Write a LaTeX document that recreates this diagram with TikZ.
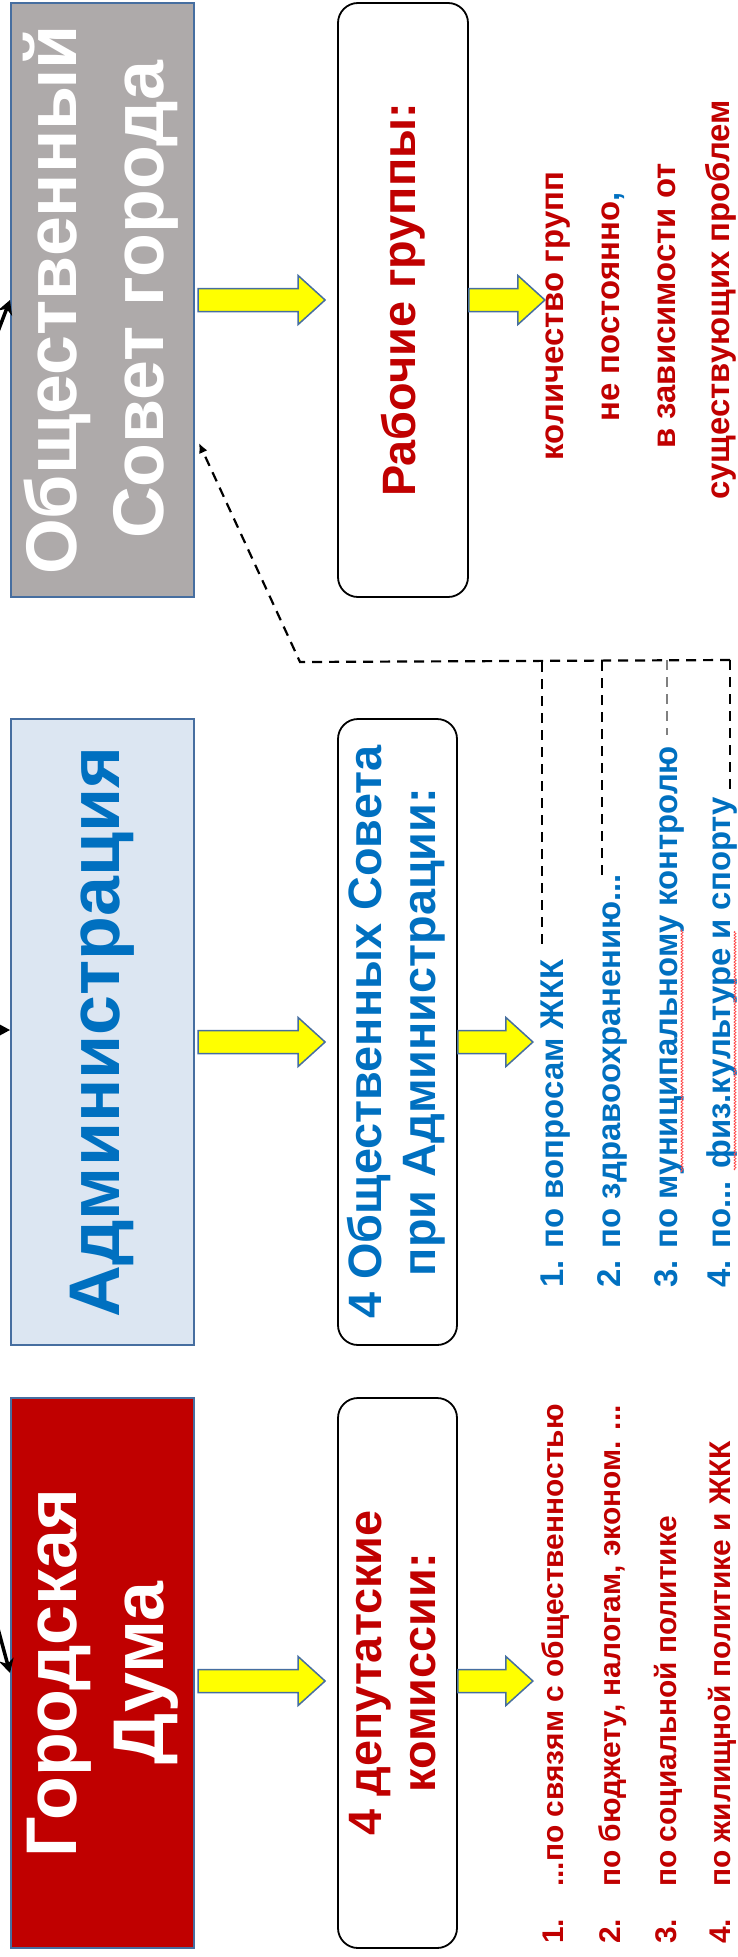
\documentclass[tikz,border=0pt]{standalone}
\usepackage{graphicx}
\usepackage{fontspec}
\setmainfont{Liberation Sans}
\usetikzlibrary{arrows.meta,calc,decorations.pathmorphing}
\definecolor{boxblue}{RGB}{70,110,160}
\definecolor{gfill}{RGB}{174,170,170}
\definecolor{afill}{RGB}{220,230,242}
\definecolor{dred}{RGB}{192,0,0}
\definecolor{tblue}{RGB}{0,112,192}
\definecolor{ayellow}{RGB}{255,255,0}
\newcommand\yarrow[2]{%
  \draw[yarrowst] let \p1=(#1), \p2=(#2) in
    (\x1,\y1+11.5bp) -- (\x2-27bp,\y1+11.5bp) -- (\x2-27bp,\y1+24.5bp) -- (\x2,\y1)
    -- (\x2-27bp,\y1-24.5bp) -- (\x2-27bp,\y1-11.5bp) -- (\x1,\y1-11.5bp) -- cycle;}
\begin{document}
\begin{tikzpicture}[x=1bp,y=-1bp,
  bigbox/.style={draw=boxblue, line width=2bp, minimum width=183bp, inner sep=0pt,
    font=\bfseries\fontsize{72}{87}\selectfont},
  rbox/.style={draw=black, line width=1.8bp, rounded corners=20bp, fill=white, inner sep=0pt,
    font=\bfseries\fontsize{47}{54}\selectfont},
  vtext/.style={rotate=90, inner sep=0pt},
  redlist/.style={vtext, anchor=base, text=dred, font=\bfseries\fontsize{33}{40}\selectfont},
  bluelist/.style={vtext, anchor=base west, text=tblue, font=\bfseries\fontsize{33}{38}\selectfont},
  dumalist/.style={vtext, anchor=base west, text=dred, font=\bfseries\fontsize{30}{36}\selectfont},
  yarrowst/.style={fill=ayellow, draw=boxblue, line width=1.5bp, line join=miter},
  link/.style={dash pattern=on 10bp off 7bp, line width=2.2bp},
  feed/.style={line width=3.5bp, -{Stealth[length=14bp,width=15bp]}},
  squiggle/.style={draw=red!70!white, line width=0.8bp, decorate,
    decoration={snake, amplitude=1bp, segment length=3bp}}
]
\useasboundingbox (0,0) rectangle (738,1957);

% main boxes
\node[bigbox, fill=gfill, text=white, minimum height=594bp] (obs) at (102.5,300)
  {\rotatebox{90}{\begin{tabular}{@{}c@{}}Общественный\\Совет города\end{tabular}}};
\node[bigbox, fill=afill, text=tblue, minimum height=626bp] (adm) at (102.5,1032)
  {\rotatebox{90}{Администрация}};
\node[bigbox, fill=dred, text=white, minimum height=550bp] (duma) at (102.5,1673)
  {\rotatebox{90}{\begin{tabular}{@{}c@{}}Городская\\Дума\end{tabular}}};

% rounded boxes
\node[rbox, minimum width=130bp, minimum height=594bp, text=dred] (rab) at (403,300)
  {\rotatebox{90}{Рабочие группы:}};
\node[rbox, minimum width=119bp, minimum height=626bp, text=tblue] (osov) at (397.5,1032)
  {\rotatebox{90}{\begin{tabular}{@{}c@{}}4 Общественных Совета\\при Администрации:\end{tabular}}};
\node[rbox, minimum width=119bp, minimum height=550bp, text=dred] (dep) at (397.5,1673)
  {\rotatebox{90}{\begin{tabular}{@{}c@{}}4 депутатские\\комиссии:\end{tabular}}};

% lists
\node[redlist] (w1) at (563,316) {количество групп};
\node[redlist] (w2) at (619,307) {не постоянно\textcolor{tblue}{,}};
\node[redlist] (w3) at (675,306) {в зависимости от};
\node[redlist] (w4) at (729,300) {существующих проблем};

\node[bluelist] (a1) at (563,1288) {1. по вопросам ЖКК};
\node[bluelist] (a2) at (620,1288) {2. по здравоохранению...};
\node[bluelist] (a3) at (677,1288) {3. по муниципальному контролю};
\node[bluelist] (a4) at (730,1288) {4. по... физ.культуре и спорту};

\node[dumalist] (n1) at (563,1944) {1.};
\node[dumalist] (n2) at (620,1944) {2.};
\node[dumalist] (n3) at (676,1944) {3.};
\node[dumalist] (n4) at (730,1944) {4.};
\node[dumalist] (d1) at (563,1887) {...по связям с общественностью};
\node[dumalist] (d2) at (620,1887) {по бюджету, налогам, эконом. ...};
\node[dumalist] (d3) at (676,1887) {по социальной политике};
\node[dumalist] (d4) at (730,1887) {по жилищной политике и ЖКК};

% yellow block arrows
\yarrow{$(obs.east)+(3,0)$}{$(rab.west)+(-12,0)$}
\yarrow{$(rab.east)+(0,0)$}{$(rab.east)+(76,0)$}
\yarrow{$(adm.east)+(3,10)$}{$(osov.west)+(-12,10)$}
\yarrow{$(osov.east)+(0,10)$}{$(osov.east)+(75,10)$}
\yarrow{$(duma.east)+(3,8)$}{$(dep.west)+(-12,8)$}
\yarrow{$(dep.east)+(0,8)$}{$(dep.east)+(75,8)$}

% dashed links
\coordinate (corner) at (300,662);
\coordinate (obsin) at ($(obs.east)+(4,143)$);
\coordinate (v1) at (542,662);
\coordinate (v2) at (602,661);
\coordinate (v3) at (667,660);
\coordinate (v4) at (730,660);
\draw[link, -{Latex[length=10bp,width=9bp]}] (v4) -- (corner) -- (obsin);
\draw[link] (v1) -- ($(v1 |- a1.east)+(0,-9)$);
\draw[link] (v2) -- ($(v2 |- a2.east)+(0,5)$);
\draw[link, draw=gray] (v3) -- ($(v3 |- a3.east)+(0,-11)$);
\draw[link] (v4) -- ($(v4 |- a4.east)+(0,-4)$);

% spell-check underlines
\draw[squiggle] (682,1172) -- (682,929);
\draw[squiggle] (735,1170) -- (735,931);

% incoming arrows from the left
\coordinate (f1) at (-3,334);
\coordinate (f2) at (-20,1030);
\coordinate (f3) at (-3,1625);
\draw[feed] (f1) -- (obs.west);
\draw[feed] (f2) -- (f2 -| adm.west);
\draw[feed] (f3) -- (duma.west);
\end{tikzpicture}
\end{document}
